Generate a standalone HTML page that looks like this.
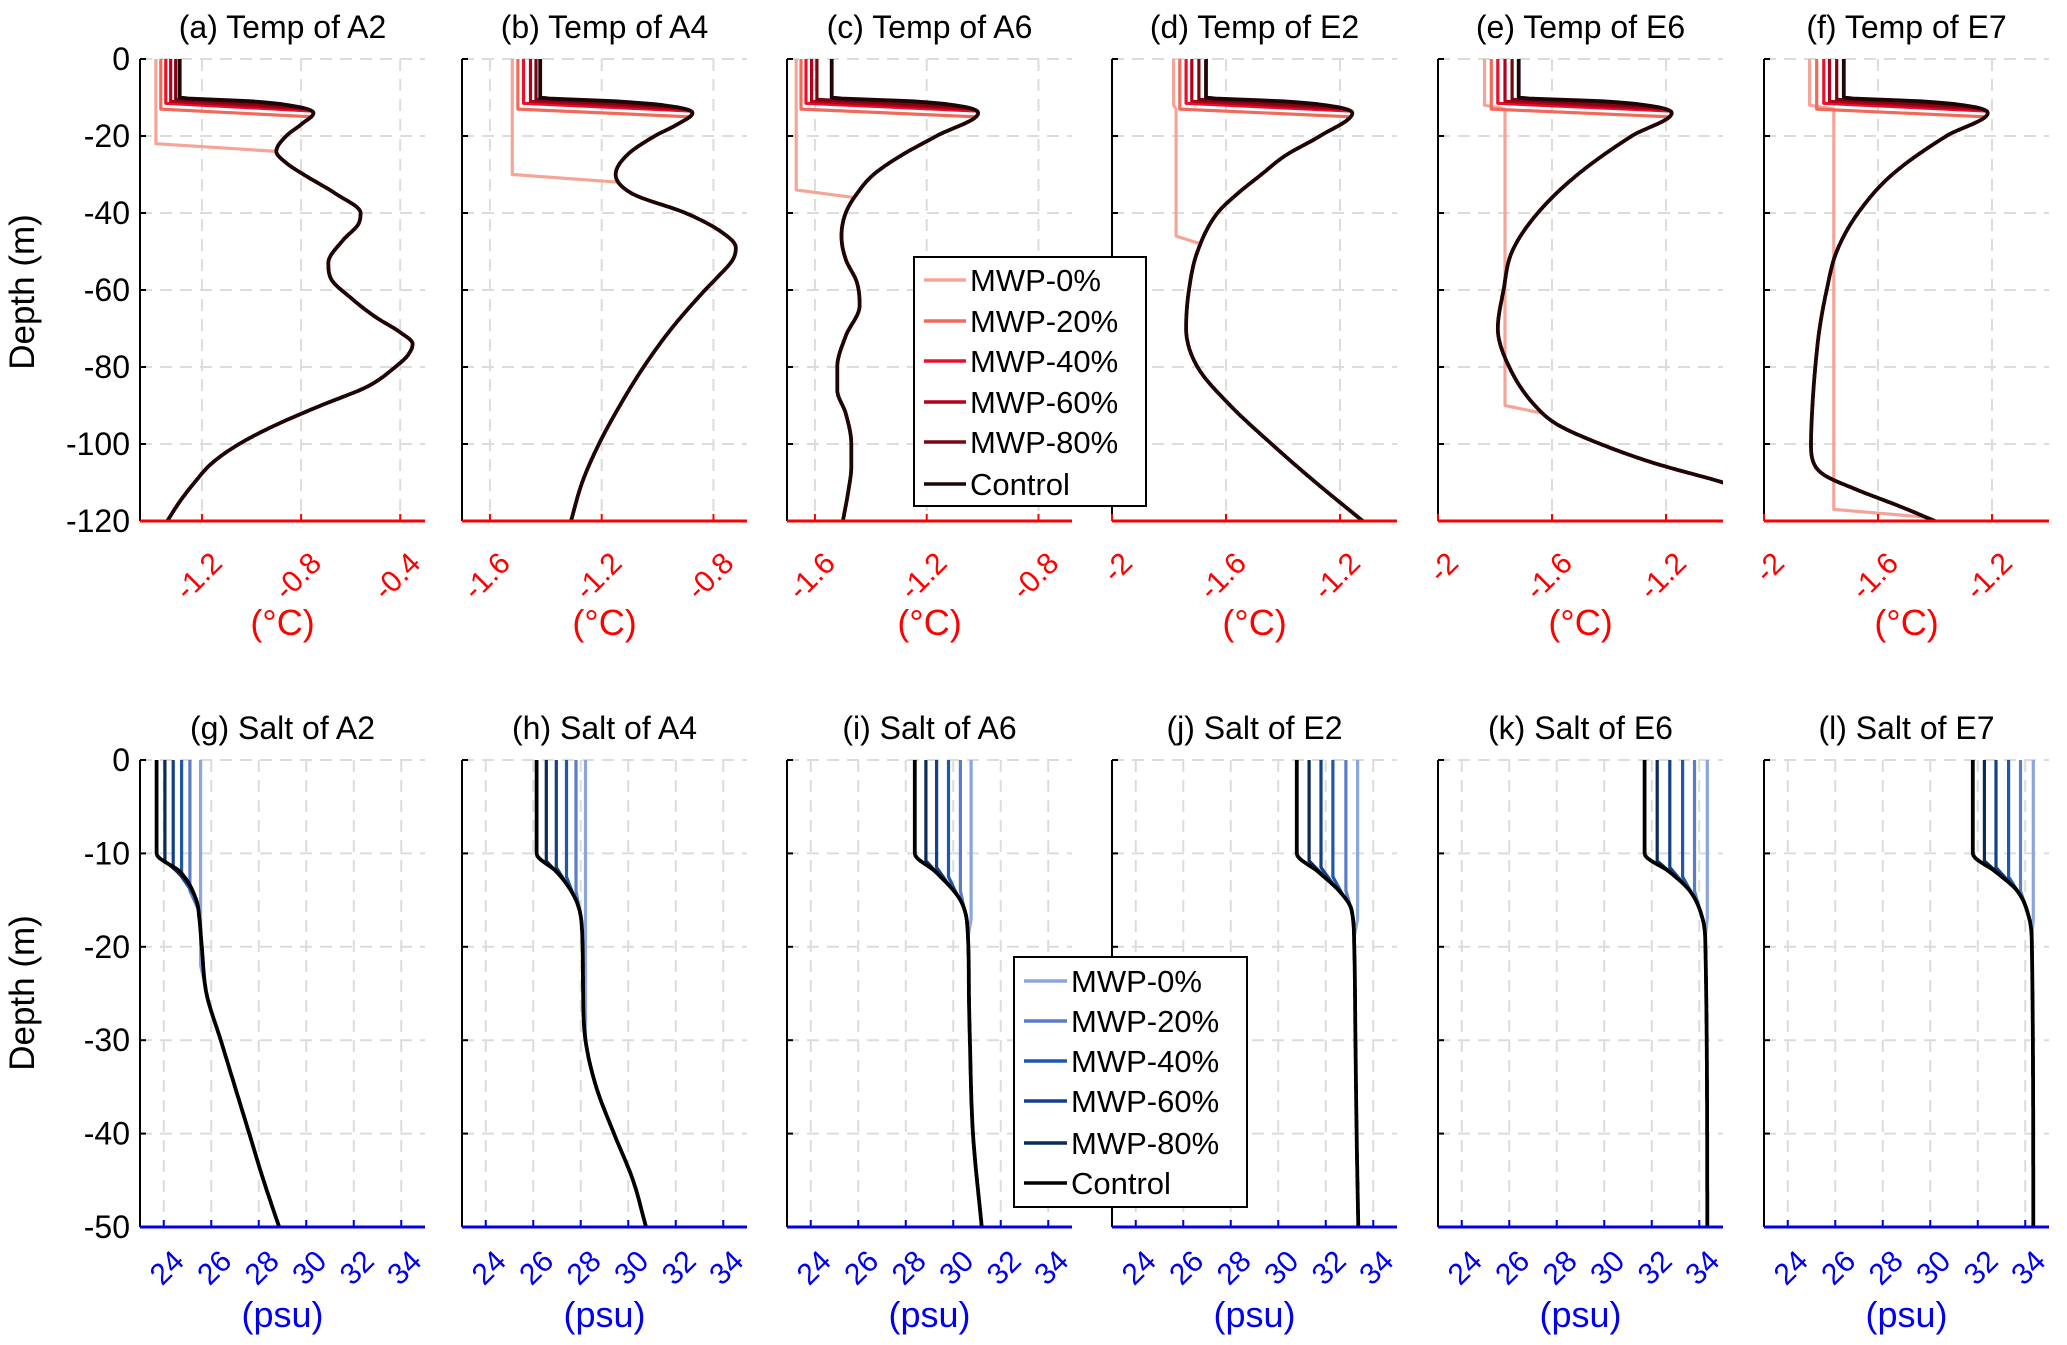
<!DOCTYPE html>
<html><head><meta charset="utf-8"><style>
html,body{margin:0;padding:0;background:#fff}
svg{display:block;font-family:"Liberation Sans",Arial,sans-serif}
</style></head><body>
<svg id="fig" width="2067" height="1345" viewBox="0 0 2067 1345" xmlns="http://www.w3.org/2000/svg"></svg>
<script>
// ---------------- DATA ----------------
const seriesNames = ["MWP-0%","MWP-20%","MWP-40%","MWP-60%","MWP-80%","Control"];
const tempColors = ["#f5a597","#f06a5c","#e8112d","#b5001c","#7a0612","#1f0505"];
const saltColors = ["#8aa6dc","#5b7dc6","#1f58a8","#124089","#0a2a58","#000000"];

const depthTicksT = [0,-20,-40,-60,-80,-100,-120];
const depthTicksS = [0,-10,-20,-30,-40,-50];
const saltTicks = [24,26,28,30,32,34];

const ctlDepthA2 = [0,10,11,12,14,17,20,24,27,30,35,40,43,47,53,57,62,67,71,74,77,80,85,90,95,100,105,110,115,120];
const ctlTempA2  = [-1.29,-1.29,-1.0,-0.85,-0.75,-0.8,-0.86,-0.9,-0.86,-0.79,-0.66,-0.56,-0.57,-0.63,-0.69,-0.68,-0.6,-0.5,-0.4,-0.35,-0.37,-0.42,-0.53,-0.72,-0.9,-1.05,-1.16,-1.23,-1.29,-1.34];
const ctlDepthA4 = [0,10,11,12,14,17,20,25,30,35,40,45,49,52,57,60,70,80,90,100,110,120];
const ctlTempA4  = [-1.42,-1.42,-1.15,-0.98,-0.875,-0.93,-1.01,-1.11,-1.15,-1.09,-0.9,-0.77,-0.72,-0.73,-0.79,-0.83,-0.95,-1.05,-1.135,-1.21,-1.27,-1.31];
const ctlDepthA6 = [0,10,11,12,14,20,25,30,35,40,46,52,58,64,72,80,86,92,100,106,112,120];
const ctlTempA6  = [-1.54,-1.54,-1.25,-1.1,-1.016,-1.165,-1.29,-1.39,-1.45,-1.49,-1.505,-1.49,-1.45,-1.44,-1.49,-1.52,-1.52,-1.49,-1.47,-1.47,-1.48,-1.50];
const ctlDepthE2 = [0,10,11,12,14,20,25,30,35,40,50,60,70,80,90,100,110,120];
const ctlTempE2  = [-1.67,-1.67,-1.4,-1.25,-1.157,-1.27,-1.39,-1.476,-1.56,-1.63,-1.70,-1.73,-1.74,-1.70,-1.585,-1.44,-1.285,-1.12];
const ctlDepthE6 = [0,10,11,12,14,20,30,40,50,60,70,80,90,95,100,105,110,115];
const ctlTempE6  = [-1.717,-1.717,-1.42,-1.27,-1.18,-1.32,-1.51,-1.65,-1.74,-1.77,-1.79,-1.75,-1.66,-1.58,-1.43,-1.24,-1.0,-0.8];
const ctlDepthE7 = [0,10,11,12,14,20,30,40,50,60,70,80,90,100,104,108,112,116,120];
const ctlTempE7  = [-1.72,-1.72,-1.45,-1.3,-1.215,-1.36,-1.55,-1.67,-1.745,-1.78,-1.805,-1.82,-1.83,-1.835,-1.83,-1.79,-1.67,-1.53,-1.40];

const surfTempA2 = [-1.386,-1.366,-1.346,-1.326,-1.306,-1.29];
const mldTempA2  = [22,13,11.5,11,10.5,10];
const surfTempA4 = [-1.52,-1.50,-1.48,-1.455,-1.435,-1.42];
const mldTempA4  = [30,13,11.5,11,10.5,10];
const surfTempA6 = [-1.667,-1.65,-1.632,-1.612,-1.593,-1.54];
const mldTempA6  = [34,13,11.5,11,10.5,10];
const surfTempE2 = [-1.784,-1.762,-1.74,-1.72,-1.695,-1.67];
const mldTempE2  = [46,13,11.5,11,10.5,10];
const surfTempE6 = [-1.837,-1.813,-1.79,-1.765,-1.74,-1.717];
const mldTempE6  = [90,13,11.5,11,10.5,10];
const surfTempE7 = [-1.84,-1.815,-1.79,-1.77,-1.745,-1.72];
const mldTempE7  = [117,13,11.5,11,10.5,10];
const subTemp0 = [null,null,null,-1.775,-1.765,-1.755];

const tempRanges = [[-1.45,-0.3],[-1.7,-0.68],[-1.7,-0.68],[-2,-1],[-2,-1],[-2,-1]];
const tempTicks = [[-1.2,-0.8,-0.4],[-1.6,-1.2,-0.8],[-1.6,-1.2,-0.8],[-2,-1.6,-1.2],[-2,-1.6,-1.2],[-2,-1.6,-1.2]];
const tempTickLabels = [["-1.2","-0.8","-0.4"],["-1.6","-1.2","-0.8"],["-1.6","-1.2","-0.8"],["-2","-1.6","-1.2"],["-2","-1.6","-1.2"],["-2","-1.6","-1.2"]];
const tempTitles = ["(a)  Temp of A2","(b)  Temp of A4","(c)  Temp of A6","(d)  Temp of E2","(e)  Temp of E6","(f)  Temp of E7"];

const ctlDepthSA2 = [0,10,12,15,17,20,25,30,35,40,45,50];
const ctlSaltA2   = [23.7,23.7,24.7,25.37,25.5,25.6,25.8,26.4,27.0,27.6,28.2,28.86];
const ctlDepthSA4 = [0,10,12,15,18,25,30,35,40,45,50];
const ctlSaltA4   = [26.14,26.14,27.0,27.8,28.05,28.1,28.2,28.65,29.4,30.2,30.75];
const ctlDepthSA6 = [0,10,12,15,18,25,30,40,50];
const ctlSaltA6   = [28.38,28.38,29.27,30.3,30.6,30.66,30.7,30.83,31.2];
const ctlDepthSE2 = [0,10,12,14,16,20,30,40,50];
const ctlSaltE2   = [30.78,30.78,31.7,32.56,33.08,33.2,33.25,33.3,33.37];
const ctlDepthSE6 = [0,10,12,14,17,20,50];
const ctlSaltE6   = [31.7,31.7,32.76,33.6,34.14,34.26,34.34];
const ctlDepthSE7 = [0,10,12,14,17,20,50];
const ctlSaltE7   = [31.79,31.79,32.77,33.66,34.17,34.28,34.34];

const surfSaltA2 = [25.55,25.1,24.75,24.4,24.05,23.7];
const mldSaltA2  = [22,14,12.5,11.5,10.8,10];
const surfSaltA4 = [28.2,27.8,27.4,26.97,26.55,26.14];
const mldSaltA4  = [30,14,12.5,11.5,10.8,10];
const surfSaltA6 = [30.75,30.3,29.8,29.3,28.85,28.38];
const mldSaltA6  = [17,14,12.5,11.5,10.8,10];
const surfSaltE2 = [33.34,32.85,32.3,31.8,31.3,30.78];
const mldSaltE2  = [17,14,12.5,11.5,10.8,10];
const surfSaltE6 = [34.34,33.8,33.3,32.76,32.23,31.7];
const mldSaltE6  = [17,14,12.5,11.5,10.8,10];
const surfSaltE7 = [34.34,33.8,33.3,32.77,32.28,31.79];
const mldSaltE7  = [17,14,12.5,11.5,10.8,10];

const saltRange = [23,35];
const saltTitles = ["(g)  Salt of A2","(h)  Salt of A4","(i)  Salt of A6","(j)  Salt of E2","(k)  Salt of E6","(l)  Salt of E7"];

const tempProfiles = [
  [ctlDepthA2,ctlTempA2,surfTempA2,mldTempA2],[ctlDepthA4,ctlTempA4,surfTempA4,mldTempA4],
  [ctlDepthA6,ctlTempA6,surfTempA6,mldTempA6],[ctlDepthE2,ctlTempE2,surfTempE2,mldTempE2],
  [ctlDepthE6,ctlTempE6,surfTempE6,mldTempE6],[ctlDepthE7,ctlTempE7,surfTempE7,mldTempE7]];
const saltProfiles = [
  [ctlDepthSA2,ctlSaltA2,surfSaltA2,mldSaltA2],[ctlDepthSA4,ctlSaltA4,surfSaltA4,mldSaltA4],
  [ctlDepthSA6,ctlSaltA6,surfSaltA6,mldSaltA6],[ctlDepthSE2,ctlSaltE2,surfSaltE2,mldSaltE2],
  [ctlDepthSE6,ctlSaltE6,surfSaltE6,mldSaltE6],[ctlDepthSE7,ctlSaltE7,surfSaltE7,mldSaltE7]];

// ---------------- LAYOUT ----------------
const NS = "http://www.w3.org/2000/svg";
const svg = document.getElementById("fig");
const panelLeft = [140,462,787,1112,1438,1764];
const panelW = 285;
const rowT = {top:59,bottom:521,tickOff:44,unitOff:114};
const rowS = {top:760,bottom:1227,tickOff:36,unitOff:100};

function mk(tag, attrs, parent){
  const e = document.createElementNS(NS, tag);
  for (const k in attrs) e.setAttribute(k, attrs[k]);
  (parent||svg).appendChild(e);
  return e;
}
function monotone(xs, ys){
  const n = xs.length, d = [], m = new Array(n);
  for (let i=0;i<n-1;i++) d.push((ys[i+1]-ys[i])/(xs[i+1]-xs[i]));
  m[0]=d[0]; m[n-1]=d[n-2];
  for (let i=1;i<n-1;i++){ m[i] = (d[i-1]*d[i]<=0)?0:(d[i-1]+d[i])/2; }
  for (let i=0;i<n-1;i++){
    if (d[i]===0){m[i]=0;m[i+1]=0;continue;}
    const a=m[i]/d[i], b=m[i+1]/d[i], s=a*a+b*b;
    if (s>9){const t=3/Math.sqrt(s); m[i]=t*a*d[i]; m[i+1]=t*b*d[i];}
  }
  return function(x){
    let i=0; while(i<n-2 && x>xs[i+1]) i++;
    const h=xs[i+1]-xs[i], t=Math.min(1,Math.max(0,(x-xs[i])/h));
    const t2=t*t,t3=t2*t;
    return (2*t3-3*t2+1)*ys[i]+(t3-2*t2+t)*h*m[i]+(-2*t3+3*t2)*ys[i+1]+(t3-t2)*h*m[i+1];
  };
}
function seriesPoints(depths, vals, surf, mld, idx, sub){
  const ctl = monotone(depths, vals);
  const maxD = depths[depths.length-1];
  const pts = [];
  if (idx === 5){
    for (let z=0; z<=maxD+1e-9; z+=0.25) pts.push([ctl(z), z]);
    return pts;
  }
  const s = surf[idx], h = mld[idx];
  pts.push([s,0]);
  if (sub !== null && sub !== undefined){ pts.push([s,12]); pts.push([sub,13]); pts.push([sub,h]); }
  else pts.push([s,h]);
  const j = h + 2;
  for (let z=j; z<=maxD+1e-9; z+=0.25) pts.push([ctl(z), z]);
  if (j > maxD) pts.push([ctl(maxD), maxD]);
  return pts;
}

function drawPanel(p, row, xr, xticks, xlabels, title, profile, colors, depthTicks, depthMax, axisColor, unit, isTemp){
  const L = panelLeft[p], R = L+panelW, T=row.top, B=row.bottom;
  const xs = v => L + (v - xr[0])/(xr[1]-xr[0])*panelW;
  const ys = d => T + d/depthMax*(B-T);
  const g = mk("g",{});
  
  
  const clipId = (isTemp?'ct':'cs')+p;
  const cp = mk("clipPath",{id:clipId},g);
  mk("rect",{x:L,y:T-2,width:panelW,height:B-T+4},cp);
  const grid = mk("g",{stroke:"#dcdcdc","stroke-width":2,"stroke-dasharray":"12,8"},g);
  
  
  xticks.forEach(v=>mk("line",{x1:xs(v),x2:xs(v),y1:T,y2:B},grid));
  depthTicks.forEach(v=>mk("line",{x1:L,x2:R,y1:ys(-v),y2:ys(-v)},grid));
  const sg = mk("g",{"clip-path":"url(#"+clipId+")",fill:"none","stroke-linejoin":"round"},g);
  for (let i=0;i<6;i++){
    const sub = isTemp && i===0 ? subTemp0[p] : null;
    const pts = seriesPoints(profile[0],profile[1],profile[2],profile[3],i,sub);
    const d = pts.map((q,k)=>(k?"L":"M")+xs(q[0]).toFixed(1)+","+ys(q[1]).toFixed(1)).join("");
    const path = mk("path",{d:d,stroke:colors[i],"stroke-width":i===5?3.8:3.2},sg);
    
    
  }
  const ya = mk("line",{x1:L,x2:L,y1:T,y2:B,stroke:"#000","stroke-width":2},g);
  
  
  depthTicks.forEach(v=>{
    mk("line",{x1:L,x2:L+6,y1:ys(-v),y2:ys(-v),stroke:"#000","stroke-width":2},g);
    if (p===0){
      const t = mk("text",{x:L-10,y:ys(-v)+11,"text-anchor":"end","font-size":32,fill:"#000"},g);
      t.textContent = String(v);
      
      
    }
  });
  const xa = mk("line",{x1:L,x2:R,y1:B,y2:B,stroke:axisColor,"stroke-width":3},g);
  
  
  xticks.forEach((v,k)=>{
    mk("line",{x1:xs(v),x2:xs(v),y1:B,y2:B-7,stroke:axisColor,"stroke-width":2},g);
    const ax = xs(v)+22, ay = B+row.tickOff;
    const t = mk("text",{x:ax,y:ay,"text-anchor":"end","font-size":30,fill:axisColor,transform:"rotate(-45 "+ax+" "+ay+")"},g);
    t.textContent = xlabels[k];
    
    
  });
  const ul = mk("text",{x:(L+R)/2,y:B+row.unitOff,"text-anchor":"middle","font-size":36,fill:axisColor},g);
  ul.textContent = unit;
  
  
  const tt = mk("text",{x:(L+R)/2,y:T-21,"text-anchor":"middle","font-size":32,fill:"#000"},g);
  tt.textContent = title;
  
  
}

for (let p=0;p<6;p++){
  drawPanel(p,rowT,tempRanges[p],tempTicks[p],tempTickLabels[p],tempTitles[p],tempProfiles[p],tempColors,depthTicksT,120,"#ff0000","(°C)",true);
  drawPanel(p,rowS,saltRange,saltTicks,saltTicks.map(String),saltTitles[p],saltProfiles[p],saltColors,depthTicksS,50,"#0000ee","(psu)",false);
}

[[34,292],[34,760+233]].forEach((c,i)=>{
  const t = mk("text",{x:c[0],y:c[1],"text-anchor":"middle","font-size":35,fill:"#000",transform:"rotate(-90 "+c[0]+" "+c[1]+")"});
  t.textContent = "Depth (m)";
  
  
});

function legend(x,y,w,h,colors,rowYs,textX,name){
  const g = mk("g",{});
  
  
  mk("rect",{x:x,y:y,width:w,height:h,fill:"#fff",stroke:"#000","stroke-width":2},g);
  for (let i=0;i<6;i++){
    const eg = mk("g",{},g);
    
    
    mk("line",{x1:x+10,x2:textX-4,y1:rowYs[i],y2:rowYs[i],stroke:colors[i],"stroke-width":3.5},eg);
    const t = mk("text",{x:textX,y:rowYs[i]+11,"font-size":31,fill:"#000"},eg);
    t.textContent = seriesNames[i];
  }
}
legend(914,257,232,249,tempColors,[280,321,361,402,442,484],970,"legend-temp");
legend(1014,957,233,250,saltColors,[981,1021,1061,1101,1143,1183],1071,"legend-salt");
</script>
</body></html>
